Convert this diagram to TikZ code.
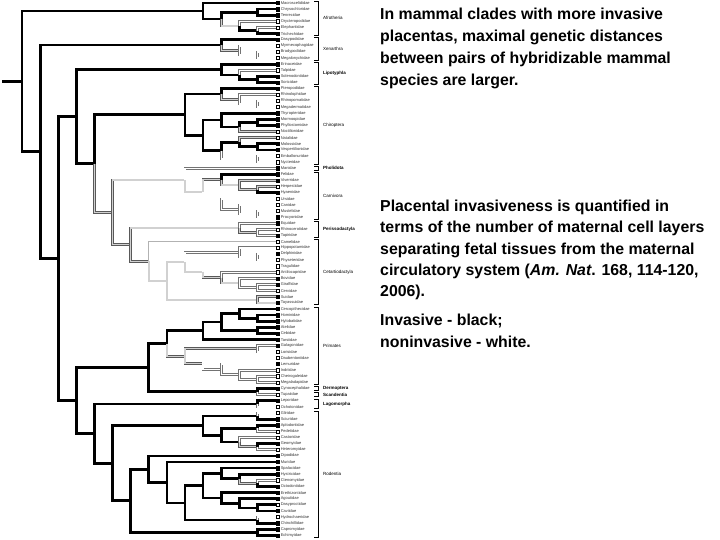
\documentclass[tikz,border=0pt]{standalone}
\usepackage{fontspec}
\setmainfont{Liberation Sans}
\usetikzlibrary{calc}
\newcommand\jn[4]{\coordinate (m#1) at ($(#3)!.5!(#4)$); \coordinate (#1) at (m#1 -| X#2);}
\newcommand\E[3]{\draw[#1] (#2) |- (#3);}
\newcommand\CL[4]{\draw[brk] (314,{3+6.12*#1-1.9}) -- (318.8,{3+6.12*#1-1.9}) -- (318.8,{3+6.12*#2+1.9}) -- (314,{3+6.12*#2+1.9});
  \node[cl,font=\fontsize{4.5}{5}\selectfont#4] at (323,{3+6.12*(#1+#2)/2}) {#3};}
\tikzset{
  bk/.style={draw=black, line width=2.7pt},
  wt/.style={draw=black!55, double=white, line width=0.6pt, double distance=1.4pt},
  gy/.style={draw=black!65, double=black!18, line width=0.6pt, double distance=1.4pt},
  lg/.style={draw=black!30, line width=1pt},
  lbl/.style={anchor=west, inner sep=0pt, text=black!80, font=\fontsize{4.0}{5}\selectfont},
  bx/.style={draw=black, line width=0.5pt, minimum size=3.3pt, inner sep=0pt},
  cl/.style={anchor=west, inner sep=0pt},
  brk/.style={draw=black, line width=0.7pt},
  txt/.style={anchor=base west, inner sep=0pt, font=\fontsize{15.85}{22}\selectfont\bfseries}
}
\begin{document}
\begin{tikzpicture}[x=1pt,y=-1pt]
\useasboundingbox (0,0) rectangle (720,540);
\foreach \h in {0,...,14} {\coordinate (X\h) at ({275.5-18.1*\h},0);}
\foreach \nm [count=\i from 0] in {Macroscelididae,Chrysochloridae,Tenrecidae,Orycteropodidae,Elephantidae,Trichechidae,Dasypodidae,Myrmecophagidae,Bradypodidae,Megalonychidae,Erinaceidae,Talpidae,Solenodontidae,Soricidae,Pteropodidae,Rhinolophidae,Rhinopomatidae,Megadermatidae,Thyropteridae,Mormoopidae,Phyllostomidae,Noctilionidae,Natalidae,Molossidae,Vespertilionidae,Emballonuridae,Nycteridae,Manidae,Felidae,Viverridae,Herpestidae,Hyaenidae,Ursidae,Canidae,Mustelidae,Procyonidae,Equidae,Rhinocerotidae,Tapiridae,Camelidae,Hippopotamidae,Delphinidae,Physeteridae,Tragulidae,Antilocapridae,Bovidae,Giraffidae,Cervidae,Suidae,Tayassuidae,Cercopithecidae,Hominidae,Hylobatidae,Atelidae,Cebidae,Tarsiidae,Galagonidae,Lorisidae,Daubentoniidae,Lemuridae,Indriidae,Cheirogaleidae,Megaladapidae,Cynocephalidae,Tupaiidae,Leporidae,Ochotonidae,Gliridae,Sciuridae,Aplodontidae,Pedetidae,Castoridae,Geomyidae,Heteromyidae,Dipodidae,Muridae,Spalacidae,Hystricidae,Ctenomyidae,Octodontidae,Erethizontidae,Agoutidae,Dasyproctidae,Caviidae,Hydrochaeridae,Chinchillidae,Capromyidae,Echimyidae}
  {\coordinate (L\i) at (275.5,{3+6.12*\i});
   \node[lbl] (T\i) at (280.6,{3+6.12*\i}) {\nm};}
% Afrotheria
\jn{c12}{1}{L1}{L2}
\jn{c45}{1}{L4}{L5}
\jn{a3}{2}{L3}{c45}
\jn{a2}{3}{c12}{a3}
\jn{AF}{4}{L0}{a2}
% Xenarthra
\jn{c89}{1}{L8}{L9}
\jn{x2}{2}{L7}{c89}
\jn{XE}{3}{L6}{x2}
% Lipotyphla
\jn{c1213}{1}{L12}{L13}
\jn{l2}{2}{L11}{c1213}
\jn{LI}{3}{L10}{l2}
% Chiroptera
\jn{c1617}{1}{L16}{L17}
\jn{p2}{2}{L15}{c1617}
\jn{PT}{3}{L14}{p2}
\jn{c1920}{1}{L19}{L20}
\jn{t2}{2}{c1920}{L21}
\jn{TH}{3}{L18}{t2}
\jn{c2324}{1}{L23}{L24}
\jn{n2}{2}{L22}{c2324}
\jn{c2526}{1}{L25}{L26}
\jn{NA}{3}{n2}{c2526}
\jn{CB}{4}{TH}{NA}
\jn{CH}{5}{PT}{CB}
% Carnivora
\jn{c3031}{1}{L30}{L31}
\jn{f2}{2}{L29}{c3031}
\jn{FE}{3}{L28}{f2}
\jn{c3435}{1}{L34}{L35}
\jn{k2}{2}{L33}{c3435}
\jn{CA}{3}{L32}{k2}
\jn{CR}{4}{FE}{CA}
\jn{FR}{5}{L27}{CR}
% Perissodactyla
\jn{c3738}{1}{L37}{L38}
\jn{PE}{2}{L36}{c3738}
% Cetartiodactyla
\jn{c4142}{1}{L41}{L42}
\jn{h2}{2}{L40}{c4142}
\jn{c4647}{1}{L46}{L47}
\jn{b2}{2}{L45}{c4647}
\jn{b3}{3}{L44}{b2}
\jn{b4}{4}{L43}{b3}
\jn{r5}{5}{h2}{b4}
\jn{c4849}{1}{L48}{L49}
\jn{r6}{6}{r5}{c4849}
\jn{CE}{7}{L39}{r6}
\jn{UN}{8}{PE}{CE}
\jn{FU}{9}{FR}{UN}
\jn{SC}{10}{CH}{FU}
\jn{LA}{11}{LI}{SC}
% Primates
\jn{c5152}{1}{L51}{L52}
\jn{an2}{2}{L50}{c5152}
\jn{c5354}{1}{L53}{L54}
\jn{AN}{3}{an2}{c5354}
\jn{HA}{4}{AN}{L55}
\jn{c5657}{1}{L56}{L57}
\jn{c6162}{1}{L61}{L62}
\jn{s2}{2}{L60}{c6162}
\jn{s3}{3}{L59}{s2}
\jn{s4}{4}{L58}{s3}
\jn{ST}{5}{c5657}{s4}
\jn{PR}{6}{HA}{ST}
\jn{c6364}{1}{L63}{L64}
\jn{EA}{7}{PR}{c6364}
% Glires
\jn{c6566}{1}{L65}{L66}
\jn{c6768}{1}{L67}{L68}
\jn{c6970}{1}{L69}{L70}
\jn{c7273}{1}{L72}{L73}
\jn{g2}{2}{L71}{c7273}
\jn{g3}{3}{c6970}{g2}
\jn{SQ}{4}{c6768}{g3}
\jn{c7879}{1}{L78}{L79}
\jn{u2}{2}{L77}{c7879}
\jn{U3}{3}{L76}{u2}
\jn{c8283}{1}{L82}{L83}
\jn{v2}{2}{L81}{c8283}
\jn{V3}{3}{L80}{v2}
\jn{W4}{4}{U3}{V3}
\jn{c8485}{1}{L84}{L85}
\jn{W5}{5}{W4}{c8485}
\jn{W6}{6}{L75}{W5}
\jn{W7}{7}{L74}{W6}
\jn{c8687}{1}{L86}{L87}
\jn{W8}{8}{W7}{c8687}
\jn{RO}{9}{SQ}{W8}
\jn{GL}{10}{c6566}{RO}
\jn{EU}{11}{EA}{GL}
\jn{BO}{12}{LA}{EU}
\jn{BX}{13}{XE}{BO}
\jn{ROOT}{14}{AF}{BX}
% ---- branches ----
\draw[bk] ($(ROOT)+(-20,0)$) coordinate (stub) -- (ROOT);
\E{bk}{ROOT}{AF}
\E{bk}{ROOT}{BX}
\E{bk}{AF}{L0}
\E{bk}{AF}{a2}
\E{bk}{a2}{c12}
\E{bk}{c12}{L1}
\E{bk}{c12}{L2}
\E{gy}{a2}{a3}
\E{wt}{a3}{L3}
\E{bk}{a3}{c45}
\E{wt}{c45}{L4}
\E{bk}{c45}{L5}
\E{bk}{BX}{XE}
\E{bk}{BX}{BO}
\E{bk}{XE}{L6}
\E{gy}{XE}{x2}
\E{wt}{x2}{L7}
\E{wt}{x2}{c89}
\E{wt}{c89}{L8}
\E{wt}{c89}{L9}
\E{bk}{BO}{LA}
\E{bk}{BO}{EU}
\E{bk}{LA}{LI}
\E{bk}{LI}{L10}
\E{bk}{LI}{l2}
\E{wt}{l2}{L11}
\E{bk}{l2}{c1213}
\E{bk}{c1213}{L12}
\E{bk}{c1213}{L13}
\E{bk}{LA}{SC}
\E{bk}{SC}{CH}
\E{gy}{SC}{FU}
\E{bk}{CH}{PT}
\E{bk}{PT}{L14}
\E{gy}{PT}{p2}
\E{wt}{p2}{L15}
\E{wt}{p2}{c1617}
\E{wt}{c1617}{L16}
\E{wt}{c1617}{L17}
\E{bk}{CH}{CB}
\E{bk}{CB}{TH}
\E{bk}{TH}{L18}
\E{bk}{TH}{t2}
\E{bk}{t2}{c1920}
\E{bk}{c1920}{L19}
\E{bk}{c1920}{L20}
\E{gy}{t2}{L21}
\E{bk}{CB}{NA}
\E{bk}{NA}{n2}
\E{gy}{n2}{L22}
\E{bk}{n2}{c2324}
\E{bk}{c2324}{L23}
\E{bk}{c2324}{L24}
\E{wt}{NA}{c2526}
\E{wt}{c2526}{L25}
\E{wt}{c2526}{L26}
\E{gy}{FU}{FR}
\E{wt}{FR}{L27}
\E{gy}{FR}{CR}
\E{gy}{CR}{FE}
\E{bk}{FE}{L28}
\E{gy}{FE}{f2}
\E{gy}{f2}{L29}
\E{gy}{f2}{c3031}
\E{gy}{c3031}{L30}
\E{bk}{c3031}{L31}
\E{wt}{CR}{CA}
\E{wt}{CA}{L32}
\E{wt}{CA}{k2}
\E{wt}{k2}{L33}
\E{wt}{k2}{c3435}
\E{wt}{c3435}{L34}
\E{wt}{c3435}{L35}
\E{gy}{FU}{UN}
\E{gy}{UN}{PE}
\E{wt}{PE}{L36}
\E{gy}{PE}{c3738}
\E{wt}{c3738}{L37}
\E{wt}{c3738}{L38}
\E{gy}{UN}{CE}
\E{lg}{CE}{L39}
\E{gy}{CE}{r6}
\E{gy}{r6}{r5}
\E{gy}{r6}{c4849}
\E{gy}{c4849}{L48}
\E{gy}{c4849}{L49}
\E{wt}{r5}{h2}
\E{wt}{h2}{L40}
\E{wt}{h2}{c4142}
\E{wt}{c4142}{L41}
\E{wt}{c4142}{L42}
\E{gy}{r5}{b4}
\E{wt}{b4}{L43}
\E{gy}{b4}{b3}
\E{wt}{b3}{L44}
\E{gy}{b3}{b2}
\E{wt}{b2}{L45}
\E{wt}{b2}{c4647}
\E{wt}{c4647}{L46}
\E{wt}{c4647}{L47}
\E{bk}{EU}{EA}
\E{bk}{EU}{GL}
\E{bk}{EA}{PR}
\E{bk}{EA}{c6364}
\E{bk}{c6364}{L63}
\E{wt}{c6364}{L64}
\E{bk}{PR}{HA}
\E{bk}{HA}{AN}
\E{bk}{HA}{L55}
\E{bk}{AN}{an2}
\E{bk}{AN}{c5354}
\E{bk}{an2}{L50}
\E{bk}{an2}{c5152}
\E{bk}{c5152}{L51}
\E{bk}{c5152}{L52}
\E{bk}{c5354}{L53}
\E{bk}{c5354}{L54}
\E{gy}{PR}{ST}
\E{gy}{ST}{c5657}
\E{wt}{c5657}{L56}
\E{wt}{c5657}{L57}
\E{gy}{ST}{s4}
\E{wt}{s4}{L58}
\E{wt}{s4}{s3}
\E{wt}{s3}{L59}
\E{wt}{s3}{s2}
\E{wt}{s2}{L60}
\E{wt}{s2}{c6162}
\E{wt}{c6162}{L61}
\E{wt}{c6162}{L62}
\E{bk}{GL}{c6566}
\E{bk}{c6566}{L65}
\E{wt}{c6566}{L66}
\E{bk}{GL}{RO}
\E{bk}{RO}{SQ}
\E{bk}{RO}{W8}
\E{bk}{SQ}{c6768}
\E{wt}{c6768}{L67}
\E{bk}{c6768}{L68}
\E{bk}{SQ}{g3}
\E{bk}{g3}{c6970}
\E{bk}{c6970}{L69}
\E{wt}{c6970}{L70}
\E{bk}{g3}{g2}
\E{wt}{g2}{L71}
\E{gy}{g2}{c7273}
\E{bk}{c7273}{L72}
\E{wt}{c7273}{L73}
\E{bk}{W8}{W7}
\E{bk}{W8}{c8687}
\E{bk}{c8687}{L86}
\E{bk}{c8687}{L87}
\E{bk}{W7}{L74}
\E{bk}{W7}{W6}
\E{bk}{W6}{L75}
\E{bk}{W6}{W5}
\E{bk}{W5}{W4}
\E{bk}{W5}{c8485}
\E{wt}{c8485}{L84}
\E{bk}{c8485}{L85}
\E{bk}{W4}{U3}
\E{bk}{W4}{V3}
\E{bk}{U3}{L76}
\E{bk}{U3}{u2}
\E{bk}{u2}{L77}
\E{gy}{u2}{c7879}
\E{wt}{c7879}{L78}
\E{bk}{c7879}{L79}
\E{bk}{V3}{L80}
\E{bk}{V3}{v2}
\E{bk}{v2}{L81}
\E{bk}{v2}{c8283}
\E{bk}{c8283}{L82}
\E{bk}{c8283}{L83}
% ---- tip boxes ----
\foreach \i in {0,...,87} {\node[bx,fill=white] (B\i) at (277.4,{3+6.12*\i}) {};}
\foreach \i in {0,1,2,5,6,10,12,13,14,18,19,20,23,24,27,28,29,31,35,36,38,41,45,46,48,49,50,51,52,53,54,55,56,59,63,65,68,69,72,74,75,76,77,79,80,81,83,85,86,87}
  {\node[bx,fill=black] (K\i) at (277.4,{3+6.12*\i}) {};}
% ---- clade brackets ----
\CL{0}{5}{Afrotheria}{}
\CL{6}{9}{Xenarthra}{}
\CL{10}{13}{Lipotyphla}{\bfseries}
\CL{14}{26}{Chiroptera}{}
\CL{27}{27}{Pholidota}{\bfseries}
\CL{28}{35}{Carnivora}{}
\CL{36}{38}{Perissodactyla}{\bfseries}
\CL{39}{49}{Cetartiodactyla}{}
\CL{50}{62}{Primates}{}
\CL{63}{63}{Dermoptera}{\bfseries}
\CL{64}{64}{Scandentia}{\bfseries}
\CL{65}{66}{Lagomorpha}{\bfseries}
\CL{67}{87}{Rodentia}{}
% ---- text ----
\node[txt] (t1) at (380,19.3) {In mammal clades with more invasive};
\node[txt] (t2) at (380,41.3) {placentas, maximal genetic distances};
\node[txt] (t3) at (380,63.3) {between pairs of hybridizable mammal};
\node[txt] (t4) at (380,85.3) {species are larger.};
\node[txt] (t5) at (380,211.7) {Placental invasiveness is quantified in};
\node[txt] (t6) at (380,233.0) {terms of the number of maternal cell layers};
\node[txt] (t7) at (380,254.3) {separating fetal tissues from the maternal};
\node[txt] (t8) at (380,275.6) {circulatory system (\textit{Am. Nat}. 168, 114-120,};
\node[txt] (t9) at (380,296.9) {2006).};
\node[txt] (t10) at (380,325.7) {Invasive - black;};
\node[txt] (t11) at (380,347.0) {noninvasive - white.};
\end{tikzpicture}
\end{document}
